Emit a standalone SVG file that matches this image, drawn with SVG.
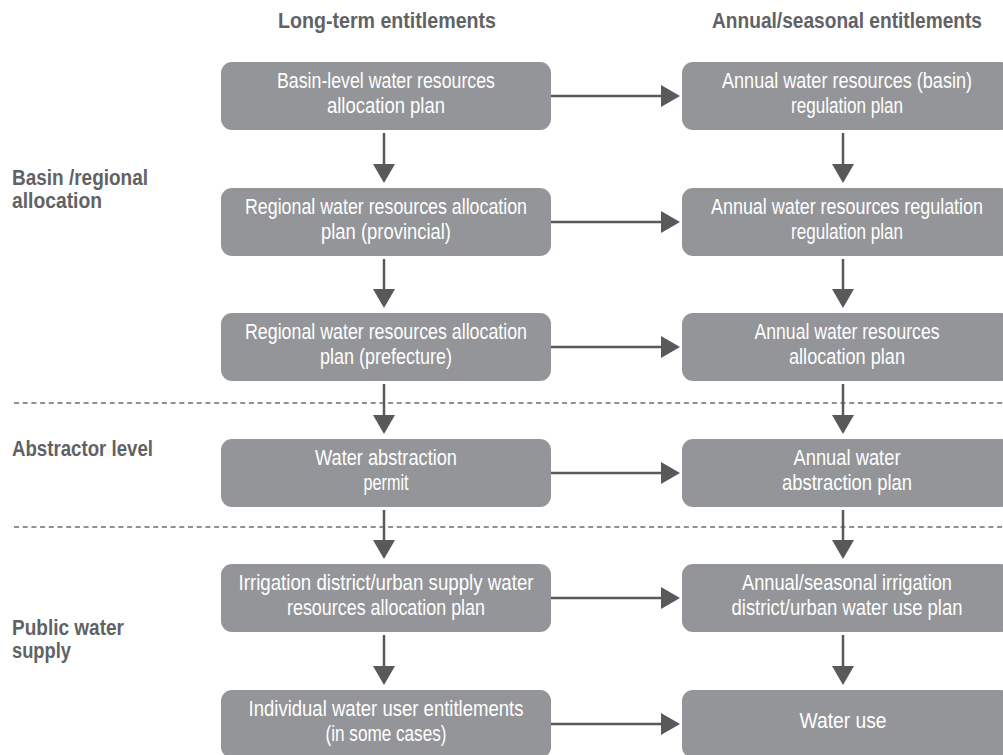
<svg xmlns="http://www.w3.org/2000/svg" width="1003" height="755" viewBox="0 0 1003 755">
<style>
.box{fill:#939598;}
.bt{font-family:"Liberation Sans",Arial,sans-serif;font-size:22px;fill:#ffffff;text-anchor:middle;}
.hd{font-family:"Liberation Sans",Arial,sans-serif;font-size:22px;font-weight:bold;fill:#616265;}
.hdc{text-anchor:middle;}
.conn line{stroke:#58595b;stroke-width:2.5;fill:none;}
.dash{stroke:#6d6e71;stroke-width:1.4;stroke-dasharray:5 3.7;}
</style>
<defs>
<marker id="ah" markerUnits="userSpaceOnUse" viewBox="0 0 19 22" markerWidth="19" markerHeight="22" refX="9" refY="11" orient="auto">
<path d="M0,0 L19,11 L0,22 z" fill="#58595b"/>
</marker>
</defs>
<rect width="1003" height="755" fill="#ffffff"/>

<g id="headers">
<text class="hd hdc" x="387" y="28" textLength="218" lengthAdjust="spacingAndGlyphs">Long-term entitlements</text>
<text class="hd hdc" transform="translate(847,28) scale(0.85,1)" x="0" y="0" textLength="317.6" lengthAdjust="spacingAndGlyphs">Annual/seasonal entitlements</text>
</g>

<g id="row-labels">
<text class="hd" x="12" y="185" textLength="136" lengthAdjust="spacingAndGlyphs">Basin /regional</text>
<text class="hd" x="12" y="208" textLength="90" lengthAdjust="spacingAndGlyphs">allocation</text>
<text class="hd" x="12" y="456" textLength="141" lengthAdjust="spacingAndGlyphs">Abstractor level</text>
<text class="hd" x="12" y="635" textLength="112" lengthAdjust="spacingAndGlyphs">Public water</text>
<text class="hd" x="12" y="658" textLength="59" lengthAdjust="spacingAndGlyphs">supply</text>
</g>

<g id="dividers">
<line class="dash" x1="14" y1="403" x2="1003" y2="403"/>
<line class="dash" x1="14" y1="527" x2="1003" y2="527"/>
</g>

<g class="conn" id="connectors">
<line x1="384" y1="133" x2="384" y2="173" marker-end="url(#ah)"/>
<line x1="384" y1="259" x2="384" y2="298" marker-end="url(#ah)"/>
<line x1="384" y1="384" x2="384" y2="424" marker-end="url(#ah)"/>
<line x1="384" y1="510" x2="384" y2="549" marker-end="url(#ah)"/>
<line x1="384" y1="635" x2="384" y2="675" marker-end="url(#ah)"/>
<line x1="843" y1="133" x2="843" y2="173" marker-end="url(#ah)"/>
<line x1="843" y1="259" x2="843" y2="298" marker-end="url(#ah)"/>
<line x1="843" y1="384" x2="843" y2="424" marker-end="url(#ah)"/>
<line x1="843" y1="510" x2="843" y2="549" marker-end="url(#ah)"/>
<line x1="843" y1="635" x2="843" y2="675" marker-end="url(#ah)"/>
<line x1="551" y1="96" x2="670" y2="96" marker-end="url(#ah)"/>
<line x1="551" y1="222" x2="670" y2="222" marker-end="url(#ah)"/>
<line x1="551" y1="347" x2="670" y2="347" marker-end="url(#ah)"/>
<line x1="551" y1="473" x2="670" y2="473" marker-end="url(#ah)"/>
<line x1="551" y1="598" x2="670" y2="598" marker-end="url(#ah)"/>
<line x1="551" y1="724" x2="670" y2="724" marker-end="url(#ah)"/>
</g>

<g id="basin-plan">
<rect class="box" x="221" y="62" width="330" height="68" rx="11"/>
<text class="bt" x="386" y="88" textLength="218" lengthAdjust="spacingAndGlyphs">Basin-level water resources</text>
<text class="bt" x="386" y="113" textLength="118" lengthAdjust="spacingAndGlyphs">allocation plan</text>
</g>
<g id="regional-provincial">
<rect class="box" x="221" y="188" width="330" height="68" rx="11"/>
<text class="bt" x="386" y="214" textLength="282" lengthAdjust="spacingAndGlyphs">Regional water resources allocation</text>
<text class="bt" x="386" y="239" textLength="130" lengthAdjust="spacingAndGlyphs">plan (provincial)</text>
</g>
<g id="regional-prefecture">
<rect class="box" x="221" y="313" width="330" height="68" rx="11"/>
<text class="bt" x="386" y="339" textLength="282" lengthAdjust="spacingAndGlyphs">Regional water resources allocation</text>
<text class="bt" x="386" y="364" textLength="132" lengthAdjust="spacingAndGlyphs">plan (prefecture)</text>
</g>
<g id="abstraction-permit">
<rect class="box" x="221" y="439" width="330" height="68" rx="11"/>
<text class="bt" x="386" y="465" textLength="142" lengthAdjust="spacingAndGlyphs">Water abstraction</text>
<text class="bt" x="386" y="490" textLength="45" lengthAdjust="spacingAndGlyphs">permit</text>
</g>
<g id="irrigation-plan">
<rect class="box" x="221" y="564" width="330" height="68" rx="11"/>
<text class="bt" x="386" y="590" textLength="295" lengthAdjust="spacingAndGlyphs">Irrigation district/urban supply water</text>
<text class="bt" x="386" y="615" textLength="198" lengthAdjust="spacingAndGlyphs">resources allocation plan</text>
</g>
<g id="user-entitlements">
<rect class="box" x="221" y="690" width="330" height="68" rx="11"/>
<text class="bt" x="386" y="716" textLength="275" lengthAdjust="spacingAndGlyphs">Individual water user entitlements</text>
<text class="bt" x="386" y="741" textLength="121" lengthAdjust="spacingAndGlyphs">(in some cases)</text>
</g>

<g id="annual-basin">
<rect class="box" x="682" y="62" width="330" height="68" rx="11"/>
<text class="bt" transform="translate(847,88) scale(0.82,1)" x="0" y="0" textLength="304.9" lengthAdjust="spacingAndGlyphs">Annual water resources (basin)</text>
<text class="bt" x="847" y="113" textLength="112" lengthAdjust="spacingAndGlyphs">regulation plan</text>
</g>
<g id="annual-regulation">
<rect class="box" x="682" y="188" width="330" height="68" rx="11"/>
<text class="bt" transform="translate(847,214) scale(0.8,1)" x="0" y="0" textLength="340" lengthAdjust="spacingAndGlyphs">Annual water resources regulation</text>
<text class="bt" x="847" y="239" textLength="112" lengthAdjust="spacingAndGlyphs">regulation plan</text>
</g>
<g id="annual-allocation">
<rect class="box" x="682" y="313" width="330" height="68" rx="11"/>
<text class="bt" x="847" y="339" textLength="185" lengthAdjust="spacingAndGlyphs">Annual water resources</text>
<text class="bt" x="847" y="364" textLength="116" lengthAdjust="spacingAndGlyphs">allocation plan</text>
</g>
<g id="annual-abstraction">
<rect class="box" x="682" y="439" width="330" height="68" rx="11"/>
<text class="bt" x="847" y="465" textLength="107" lengthAdjust="spacingAndGlyphs">Annual water</text>
<text class="bt" x="847" y="490" textLength="130" lengthAdjust="spacingAndGlyphs">abstraction plan</text>
</g>
<g id="annual-use-plan">
<rect class="box" x="682" y="564" width="330" height="68" rx="11"/>
<text class="bt" x="847" y="590" textLength="210" lengthAdjust="spacingAndGlyphs">Annual/seasonal irrigation</text>
<text class="bt" transform="translate(847,615) scale(0.84,1)" x="0" y="0" textLength="275" lengthAdjust="spacingAndGlyphs">district/urban water use plan</text>
</g>
<g id="water-use">
<rect class="box" x="682" y="690" width="330" height="68" rx="11"/>
<text class="bt" x="843" y="728" textLength="87" lengthAdjust="spacingAndGlyphs">Water use</text>
</g>
</svg>
